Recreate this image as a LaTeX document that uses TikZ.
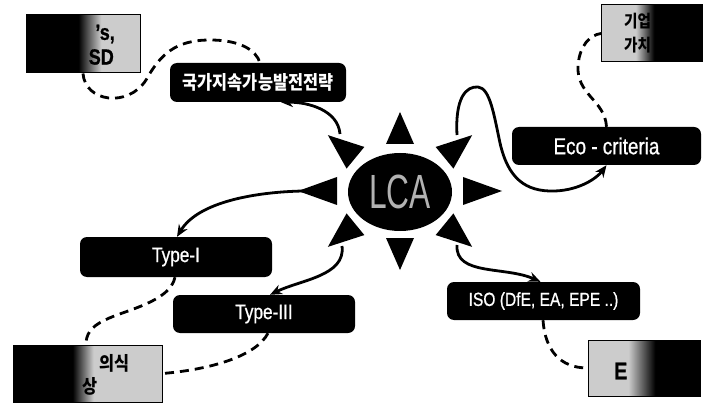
\documentclass[tikz,border=0pt]{standalone}
\usepackage{fontspec}
\setmainfont{Liberation Sans}
\newfontfamily\labfont[FakeStretch=0.82,FakeBold=0.8]{Liberation Sans}
\newfontfamily\lcafont[FakeStretch=0.66]{Liberation Sans}
\newfontfamily\korfont[FakeStretch=0.86]{Noto Sans CJK KR}
\usetikzlibrary{shapes.geometric,arrows.meta,calc}
\definecolor{lgray}{gray}{0.80}
\definecolor{lcagray}{gray}{0.70}
\pgfdeclarehorizontalshading{gTL}{100bp}{color(0bp)=(black); color(48bp)=(black); color(58bp)=(lgray); color(100bp)=(lgray)}
\pgfdeclarehorizontalshading{gTR}{100bp}{color(0bp)=(lgray); color(42bp)=(lgray); color(51bp)=(black); color(100bp)=(black)}
\pgfdeclarehorizontalshading{gBL}{100bp}{color(0bp)=(black); color(45bp)=(black); color(52bp)=(lgray); color(100bp)=(lgray)}
\pgfdeclarehorizontalshading{gBR}{100bp}{color(0bp)=(lgray); color(43bp)=(lgray); color(55bp)=(black); color(100bp)=(black)}
\tikzset{
  lab/.style={fill=black, rounded corners=7, text=white, inner sep=0pt,
              font=\labfont\fontsize{21}{21}\selectfont},
  korlab/.style={lab, font=\korfont\bfseries\fontsize{19}{19}\selectfont},
  gbox/.style={draw=black, line width=1pt, shade, inner sep=0pt},
  gtxt/.style={text=black, inner sep=0pt, font=\labfont\bfseries\fontsize{22}{22}\selectfont},
  gkor/.style={text=black, inner sep=0pt, font=\korfont\bfseries\fontsize{17}{17}\selectfont},
  link/.style={line width=2.8pt, -{Stealth[length=12pt,width=10pt]}},
  dlink/.style={line width=2.8pt, dash pattern=on 9pt off 6pt},
}
\begin{document}
\begin{tikzpicture}[x=1pt,y=-1pt]
\useasboundingbox (0,0) rectangle (703,403);
% sun
\node[ellipse, fill=black, minimum width=104pt, minimum height=78pt, inner sep=0pt,
      text=lcagray, font=\lcafont\fontsize{48}{48}\selectfont] (lca) at (400,192) {LCA};
\foreach \a in {0,45,...,315} {
  \pgfmathsetmacro\ax{400+102*cos(\a)}
  \pgfmathsetmacro\ay{191-79*sin(\a)}
  \pgfmathsetmacro\bx{400+63*cos(\a)}
  \pgfmathsetmacro\by{191-47*sin(\a)}
  \pgfmathsetmacro\len{veclen(\ax-\bx,\ay-\by)}
  \pgfmathsetmacro\px{-(\ay-\by)/\len*14}
  \pgfmathsetmacro\py{(\ax-\bx)/\len*14}
  \fill (\ax,\ay) -- (\bx+\px,\by+\py) -- (\bx-\px,\by-\py) -- cycle;
}
\coordinate (cUL) at (340,134);
\coordinate (cUR) at (457,135);
\coordinate (cL) at (303,191);
\coordinate (cLL) at (342,246);
\coordinate (cLR) at (457,245);
% label boxes
\node[korlab, minimum width=176pt, minimum height=39pt] (kor) at (258,82.5) {국가지속가능발전전략};
\node[lab, minimum width=189pt, minimum height=38pt, font=\labfont\fontsize{23}{23}\selectfont] (eco) at (606.5,146) {Eco - criteria};
\node[lab, minimum width=192pt, minimum height=40pt] (type1) at (176,257) {Type-I};
\node[lab, minimum width=182pt, minimum height=38pt] (type3) at (264,314) {Type-III};
\node[lab, minimum width=193pt, minimum height=38pt, font=\labfont\fontsize{19}{19}\selectfont] (iso) at (543.5,301) {ISO (DfE, EA, EPE ..)};
% gradient boxes
\node[gbox, shading=gTL, minimum width=114pt, minimum height=58pt] (tl) at (83,44) {};
\node[gtxt, anchor=east] (tlt1) at (115,34) {’s,};
\node[gtxt, anchor=east] (tlt2) at (114,57) {SD};
\node[gbox, shading=gTR, minimum width=101pt, minimum height=57pt] (tr) at (652,33.5) {};
\node[gkor, anchor=west] (trt1) at (624,21) {기업};
\node[gkor, anchor=west] (trt2) at (624,45) {가치};
\node[gbox, shading=gBL, minimum width=149pt, minimum height=57pt] (bl) at (87.5,373.5) {};
\node[gkor, anchor=west, font=\korfont\bfseries\fontsize{19}{19}\selectfont] (blt1) at (99,363) {의식};
\node[gkor, anchor=west, font=\korfont\bfseries\fontsize{19}{19}\selectfont] (blt2) at (82,386) {상};
\node[gbox, shading=gBR, minimum width=112pt, minimum height=56pt] (br) at (644,368) {};
\node[gtxt, anchor=west, font=\labfont\bfseries\fontsize{24}{24}\selectfont] (brt) at (614,371) {E};
% solid arrows
\draw[link] (cUL) .. controls (338,110) and (308,102) .. ([xshift=23pt]kor.south);
\draw[link] (cUR) .. controls (455,98) and (466,86) .. (478,87)
  .. controls (490,88) and (494,115) .. (500,143)
  .. controls (508,178) and (525,192) .. (555,191)
  .. controls (580,190) and (597,178) .. (eco.south);
\draw[link] (cL) .. controls (255,192) and (198,202) .. ([xshift=1pt]type1.north);
\draw[link] (cLL) .. controls (346,276) and (300,280) .. ([xshift=6pt]type3.north);
\draw[link] (cLR) .. controls (455,276) and (505,266) .. ([xshift=-3pt]iso.north);
% dashed links
\draw[dlink] (tl.south) .. controls (85,102) and (128,108) .. (146,80)
  .. controls (160,55) and (175,40) .. (210,40)
  .. controls (240,40) and (256,50) .. ([xshift=2pt]kor.north);
\draw[dlink] (eco.north) .. controls (605,100) and (576,95) .. (578,65)
  .. controls (580,45) and (590,35) .. (tr.west);
\draw[dlink] ([xshift=-1pt]type1.south) .. controls (170,302) and (125,310) .. (105,320)
  .. controls (90,327) and (86,335) .. ([xshift=-1.5pt]bl.north);
\draw[dlink] ([xshift=4pt]type3.south) .. controls (255,358) and (205,370) .. (bl.east);
\draw[dlink] ([xshift=-0.5pt]iso.south) .. controls (545,350) and (560,368) .. (br.west);
\end{tikzpicture}
\end{document}
